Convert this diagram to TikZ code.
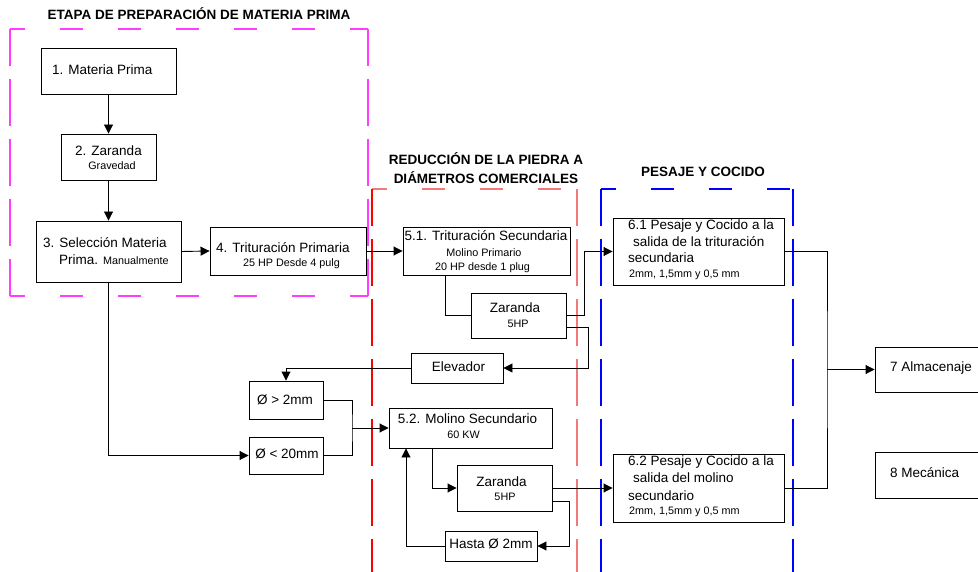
\documentclass[tikz,border=0pt]{standalone}
\usepackage{fontspec}
\setmainfont{Liberation Sans}
\usetikzlibrary{arrows.meta}
\definecolor{pinkf}{RGB}{255,60,255}
\definecolor{redf}{RGB}{255,0,0}
\definecolor{salmonf}{RGB}{245,120,120}
\definecolor{bluef}{RGB}{0,0,255}
\begin{document}
\begin{tikzpicture}[x=1pt,y=-1pt,
  box/.style={draw, rectangle, line width=0.9pt, inner sep=0pt},
  txt/.style={inner sep=0pt, font=\fontsize{13.5}{16}\selectfont},
  sm/.style={inner sep=0pt, font=\fontsize{10.8}{13}\selectfont},
  ttl/.style={inner sep=0pt, font=\bfseries\fontsize{13.5}{19}\selectfont, align=center},
  ln/.style={line width=0.9pt},
  arr/.style={line width=0.9pt, -{Triangle[length=9pt,width=9pt]}},
  hdash/.style={line width=1.1pt, dash pattern=on 23pt off 35pt, dash phase=8pt},
  vdash/.style={line width=1.1pt, dash pattern=on 47pt off 13pt, dash phase=10pt}]
\clip (0,0) rectangle (978,572);
\fill[white] (0,0) rectangle (978,572);

% frames
\draw[hdash, draw=pinkf] (10,29) -- (368,29);
\draw[hdash, draw=pinkf] (10,296) -- (368,296);
\draw[vdash, draw=pinkf] (10,29) -- (10,296);
\draw[vdash, draw=pinkf] (368,29) -- (368,296);
\draw[hdash, draw=salmonf] (372,189) -- (577,189);
\draw[vdash, draw=redf] (372,189) -- (372,572);
\draw[vdash, draw=salmonf] (577,189) -- (577,572);
\draw[hdash, draw=bluef] (601,189) -- (793,189);
\draw[vdash, draw=bluef] (601,189) -- (601,572);
\draw[vdash, draw=bluef] (793,189) -- (793,572);

% titles
\node[ttl] (t1) at (199,14) {ETAPA DE PREPARACIÓN DE MATERIA PRIMA};
\node[ttl] (t2) at (486,168.5) {REDUCCIÓN DE LA PIEDRA A\\DIÁMETROS COMERCIALES};
\node[ttl] (t3) at (703,172) {PESAJE Y COCIDO};

% boxes
\node[box, minimum width=135pt, minimum height=46pt] (b1) at (108.5,71) {};
\node[box, minimum width=95pt, minimum height=46pt] (b2) at (108.5,157) {};
\node[box, minimum width=145pt, minimum height=61pt] (b3) at (108.5,251.5) {};
\node[box, minimum width=156pt, minimum height=48pt] (b4) at (288,251) {};
\node[box, minimum width=167pt, minimum height=48pt] (b51) at (486.5,251) {};
\node[box, minimum width=95pt, minimum height=45pt] (za1) at (518.5,315.5) {};
\node[box, minimum width=92pt, minimum height=30pt] (elev) at (457,368) {};
\node[box, minimum width=74pt, minimum height=38pt] (gt2) at (286,400) {};
\node[box, minimum width=74pt, minimum height=37pt] (lt20) at (286,455.5) {};
\node[box, minimum width=163pt, minimum height=40pt] (b52) at (470.5,428) {};
\node[box, minimum width=95pt, minimum height=46pt] (za2) at (504.5,488) {};
\node[box, minimum width=92pt, minimum height=30pt] (hasta) at (491,546) {};
\node[box, minimum width=171pt, minimum height=67pt] (b61) at (698.5,251.5) {};
\node[box, minimum width=171pt, minimum height=68pt] (b62) at (698.5,488) {};
\node[box, minimum width=135pt, minimum height=45pt] (b7) at (942.5,369.5) {};
\node[box, minimum width=135pt, minimum height=46pt] (b8) at (942.5,475) {};

% texts
\node[txt, anchor=west] (x1) at (52,70) {1. Materia Prima};
\node[txt] (x2a) at (108.5,151) {2. Zaranda};
\node[sm] (x2b) at (112,166) {Gravedad};
\node[txt, anchor=west] (x3a) at (43,243) {3. Selección Materia};
\node[txt, anchor=west] (x3b) at (59,260) {Prima. {\fontsize{10.8}{13}\selectfont Manualmente}};
\node[txt, anchor=west] (x4a) at (216,248) {4. Trituración Primaria};
\node[sm] (x4b) at (291.5,264) {25 HP Desde 4 pulg};
\node[txt] (x51a) at (486,236) {5.1. Trituración Secundaria};
\node[sm] (x51b) at (484,253) {Molino Primario};
\node[sm] (x51c) at (482.5,268) {20 HP desde 1 plug};
\node[txt] (xz1a) at (515,308) {Zaranda};
\node[sm] (xz1b) at (518,324) {5HP};
\node[txt] (xel) at (458.5,367) {Elevador};
\node[txt] (xgt) at (285,400) {Ø > 2mm};
\node[txt] (xlt) at (287,454) {Ø < 20mm};
\node[txt] (x52a) at (467.5,419) {5.2. Molino Secundario};
\node[sm] (x52b) at (463.5,435) {60 KW};
\node[txt] (xz2a) at (501.5,482) {Zaranda};
\node[sm] (xz2b) at (505,497) {5HP};
\node[txt] (xha) at (491,544) {Hasta Ø 2mm};
\node[txt, anchor=west] (x61a) at (628,226) {6.1 Pesaje y Cocido a la};
\node[txt, anchor=west] (x61b) at (633,242) {salida de la trituración};
\node[txt, anchor=west] (x61c) at (628,258) {secundaria};
\node[sm, anchor=west] (x61d) at (629,275) {2mm, 1,5mm y 0,5 mm};
\node[txt, anchor=west] (x62a) at (628,462) {6.2 Pesaje y Cocido a la};
\node[txt, anchor=west] (x62b) at (633,478) {salida del molino};
\node[txt, anchor=west] (x62c) at (628,496) {secundario};
\node[sm, anchor=west] (x62d) at (629,512) {2mm, 1,5mm y 0,5 mm};
\node[txt, anchor=west] (x7) at (890,368) {7 Almacenaje};
\node[txt, anchor=west] (x8) at (890,473) {8 Mecánica};

% connectors
\draw[arr] (b1.south) -- (b2.north);
\draw[arr] (b2.south) -- (b3.north);
\draw[arr] (b3.east) -- (b4.west);
\draw[arr] (b4.east) -- (b51.west);
\draw[ln] ([xshift=-41.5pt]b51.south) |- (za1.west);
\draw[arr] (za1.east) -- ++(18,0) |- (b61.west);
\draw[arr] ([yshift=-11.5pt]za1.east) -- ++(22,0) |- (elev.east);
\draw[arr] (elev.west) -| (gt2.north);
\coordinate (jn) at (352,428);
\draw[ln] (gt2.east) -| (jn) |- (lt20.east);
\draw[arr] (jn) -- (b52.west);
\draw[arr] (b3.south) |- (lt20.west);
\draw[arr] ([xshift=-38.5pt]b52.south) |- (za2.west);
\draw[arr] (za2.east) -- (b62.west);
\draw[arr] ([yshift=-13pt]za2.east) -- ++(17,0) |- (hasta.east);
\draw[arr] (hasta.west) -| ([xshift=-64.5pt]b52.south);
\coordinate (jr) at (827,369.5);
\draw[ln] (b61.east) -| (jr) |- (b62.east);
\draw[arr] (jr) -- (b7.west);
\end{tikzpicture}
\end{document}
